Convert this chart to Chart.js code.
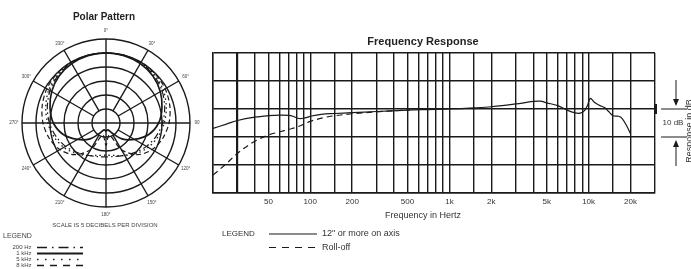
<!DOCTYPE html>
<html><head><meta charset="utf-8">
<script src="https://cdn.jsdelivr.net/npm/chart.js@4"></script>
<style>
html,body{margin:0;padding:0;background:#fff;}
#wrap{position:relative;width:691px;height:269px;overflow:hidden;background:#fff;}
canvas{position:absolute;left:0;top:0;}
</style></head><body>
<div id="wrap">
<canvas id="freq" width="691" height="269"></canvas>
<canvas id="polar" width="200" height="269"></canvas>
</div>
<script>
const F = '"Liberation Sans", Arial, Helvetica, sans-serif';

// ---- Polar pattern (dB, outer ring = 0, centre = -30, 5 dB per ring) ----
const polarAngles = ['0°','15°','30°','45°','60°','75°','90°','105°','120°','135°','150°','165°','180°','195°','210°','225°','240°','255°','270°','285°','300°','315°','330°','345°'];
const pattern200Hz = [-5,-5,-5.3,-5.9,-6.9,-8.3,-9.8,-11.5,-13.3,-15.2,-16.7,-17.6,-17.9,-17.6,-16.7,-15.2,-13.3,-11.5,-9.8,-8.3,-6.9,-5.9,-5.3,-5];
const pattern1kHz  = [-5,-5.1,-5.5,-6.3,-7.6,-9.3,-11.2,-14.2,-18.3,-22,-26,-27.5,-27,-27.5,-26,-22,-18.3,-14.2,-11.2,-9.3,-7.6,-6.3,-5.5,-5.1];
const pattern5kHz  = [-5,-5,-5.2,-5.6,-6.4,-7.7,-9.2,-10.8,-12.6,-14.6,-16.6,-18,-18.5,-18,-16.6,-14.6,-12.6,-10.8,-9.2,-7.7,-6.4,-5.6,-5.2,-5];
const pattern8kHz  = [-5,-5,-5,-5.2,-5.6,-6.4,-7.5,-9,-11,-14,-19,-25.5,-22,-25.5,-19,-14,-11,-9,-7.5,-6.4,-5.6,-5.2,-5,-5];
const polarLegend = ['200 Hz','1 kHz','5 kHz','8 kHz'];

// ---- Frequency response ----
const gridFreqs = [20,30,40,50,60,70,80,90,100,150,200,300,400,500,600,700,800,900,1000,1500,2000,3000,4000,5000,6000,7000,8000,9000,10000,15000,20000,30000];
const labelFreqs = [50,100,200,500,1000,2000,5000,10000,20000];
const labelTexts = ['50','100','200','500','1k','2k','5k','10k','20k'];
const dbTicks = [-30,-20,-10,0,10,20];
const onAxisFreqs = [20,25,30,40,50,60,70,75,80,87,95,100,120,150,200,300,500,700,1000,1500,2000,3000,4000,4500,5000,6000,7000,8000,8700,9300,9800,10300,11000,12000,13000,14000,15000,16500,17500,19000,20000];
const onAxisDb    = [-6.9,-5.4,-4.1,-2.9,-2.4,-2.2,-2.3,-2.6,-3.2,-3.4,-3.0,-2.6,-1.9,-1.6,-1.3,-0.9,-0.4,-0.2,0,0.4,0.8,1.8,2.7,2.8,2.2,1.2,-0.4,-1.4,-1.5,-0.7,1.2,3.8,2.4,1.3,0.5,-1.0,-2.4,-2.6,-3.5,-6.5,-8.8];
const rollOffFreqs = [20,25,30,40,50,60,70,80,100,130,150,200,300,400,520];
const rollOffDb    = [-23.6,-19.5,-15.8,-11.5,-9.3,-8.2,-7.3,-6.5,-4.4,-2.9,-2.4,-1.7,-1.0,-0.6,-0.3];
const freqLegend = ['12" or more on axis','Roll-off'];

const INK = '#1a1a1a';
const polarStyles = [
  {w:1.2, dash:[7,3,1.5,3]},
  {w:1.7, dash:[]},
  {w:1.3, dash:[1.5,3]},
  {w:1.2, dash:[5,3]}
];

function txt(ctx, s, x, y, font, align, color){
  ctx.font = font; ctx.textAlign = align || 'left'; ctx.textBaseline = 'middle';
  ctx.fillStyle = color || '#333'; ctx.fillText(s, x, y);
}
function seg(ctx, x1, y1, x2, y2, w, dash){
  ctx.beginPath(); ctx.setLineDash(dash || []); ctx.lineWidth = w; ctx.strokeStyle = INK;
  ctx.moveTo(x1, y1); ctx.lineTo(x2, y2); ctx.stroke(); ctx.setLineDash([]);
}

const annot = {
  id: 'annot',
  afterDraw(chart){
    const ctx = chart.ctx, ys = chart.scales.y, a = chart.chartArea;
    ctx.save();
    // Frequency response texts
    txt(ctx, 'Frequency Response', (a.left + a.right) / 2 - 11, 41.5, 'bold 11px ' + F, 'center', '#222');
    txt(ctx, 'Frequency in Hertz', (a.left + a.right) / 2 - 11, 215.5, '9px ' + F, 'center', '#333');
    // legend
    txt(ctx, 'LEGEND', 222, 233.5, '8px ' + F, 'left', '#333');
    seg(ctx, 269, 234, 317, 234, 1.2, []);
    seg(ctx, 269, 247.5, 317, 247.5, 1.1, [7, 6]);
    txt(ctx, freqLegend[0], 322, 234, '9px ' + F, 'left', '#333');
    txt(ctx, freqLegend[1], 322, 247.5, '9px ' + F, 'left', '#333');
    // right side 10 dB annotation
    const y0 = ys.getPixelForValue(0), y10 = ys.getPixelForValue(-10);
    ctx.fillStyle = INK; ctx.fillRect(a.right - 1, y0 - 5, 3, 10);
    seg(ctx, 661, y0, 687, y0, 1, []);
    seg(ctx, 661, y10, 687, y10, 1, []);
    const ax = 676;
    seg(ctx, ax, y0 - 29, ax, y0 - 8, 1, []);
    ctx.beginPath(); ctx.moveTo(ax - 3, y0 - 10); ctx.lineTo(ax + 3, y0 - 10); ctx.lineTo(ax, y0 - 3); ctx.closePath(); ctx.fill();
    seg(ctx, ax, y10 + 8, ax, y10 + 29, 1, []);
    ctx.beginPath(); ctx.moveTo(ax - 3, y10 + 10); ctx.lineTo(ax + 3, y10 + 10); ctx.lineTo(ax, y10 + 3); ctx.closePath(); ctx.fill();
    txt(ctx, '10 dB', 673, (y0 + y10) / 2, '8px ' + F, 'center', '#333');
    ctx.save(); ctx.translate(689.5, 131); ctx.rotate(-Math.PI / 2);
    txt(ctx, 'Response in dB', 0, 0, '9px ' + F, 'center', '#333');
    ctx.restore();
    // Polar texts
    txt(ctx, 'Polar Pattern', 104, 17, 'bold 10px ' + F, 'center', '#222');
    txt(ctx, 'SCALE IS 5 DECIBELS PER DIVISION', 105, 225, '6px ' + F, 'center', '#444');
    txt(ctx, 'LEGEND', 3, 236.5, '7px ' + F, 'left', '#444');
    const ly = [247.5, 253.5, 259.5, 265.5];
    polarLegend.forEach((s, i) => {
      txt(ctx, s, 31.5, ly[i], '6px ' + F, 'right', '#444');
      const st = polarStyles[i];
      seg(ctx, 37, ly[i], 83, ly[i], i === 1 ? 1.8 : 1.4, i === 2 ? [1.5, 6.5] : (i === 0 ? [10, 5, 1.5, 5] : st.dash.length ? [7, 6] : []));
    });
    ctx.restore();
  }
};

new Chart(document.getElementById('freq'), {
  type: 'line',
  data: { datasets: [
    { label: freqLegend[0], data: onAxisFreqs.map((f, i) => ({x: f, y: onAxisDb[i]})), borderColor: INK, borderWidth: 1.2, pointRadius: 0, tension: 0.35, fill: false },
    { label: freqLegend[1], data: rollOffFreqs.map((f, i) => ({x: f, y: rollOffDb[i]})), borderColor: INK, borderWidth: 1.2, borderDash: [6, 4], pointRadius: 0, tension: 0.35, fill: false }
  ]},
  options: {
    responsive: false, animation: false,
    layout: { padding: { left: 213, right: 36, top: 53, bottom: 56 } },
    plugins: { legend: { display: false }, tooltip: { enabled: false } },
    scales: {
      x: {
        type: 'logarithmic', min: 20, max: 30000,
        afterBuildTicks: s => { s.ticks = gridFreqs.map(v => ({value: v})); },
        afterFit: s => { s.height = 20; },
        ticks: { autoSkip: false, maxRotation: 0, minRotation: 0, padding: 4, font: { family: F, size: 8 }, color: '#333',
          callback: v => { const k = labelFreqs.indexOf(v); return k >= 0 ? labelTexts[k] : ''; } },
        grid: { color: INK, lineWidth: c => (c.tick && c.tick.value === 30) ? 2.2 : 1.4, drawTicks: false },
        border: { color: INK, width: 1.4 }
      },
      y: {
        min: -30, max: 20,
        afterBuildTicks: s => { s.ticks = dbTicks.map(v => ({value: v})); },
        afterFit: s => { s.width = 0; },
        ticks: { display: false },
        grid: { color: INK, lineWidth: 1.4, drawTicks: false },
        border: { color: INK, width: 1.4 }
      }
    }
  },
  plugins: [annot]
});

const spokes = {
  id: 'spokes',
  beforeDatasetsDraw(chart){
    const s = chart.scales.r, ctx = chart.ctx;
    ctx.save();
    for (let i = 0; i < polarAngles.length; i += 2) {
      const p0 = s.getPointPositionForValue(i, i % 6 === 0 ? s.min : -25);
      const p1 = s.getPointPositionForValue(i, s.max);
      seg(ctx, p0.x, p0.y, p1.x, p1.y, 1.4, []);
    }
    ctx.restore();
  },
  afterDraw(chart){
    const s = chart.scales.r, ctx = chart.ctx;
    ctx.save();
    for (let i = 0; i < polarAngles.length; i += 2) {
      const p = s.getPointPosition(i, s.drawingArea + 8);
      txt(ctx, polarAngles[i], p.x, p.y, '4.5px ' + F, 'center', '#444');
    }
    ctx.restore();
  }
};

new Chart(document.getElementById('polar'), {
  type: 'radar',
  data: { labels: polarAngles, datasets: [pattern200Hz, pattern1kHz, pattern5kHz, pattern8kHz].map((d, i) => ({
    label: polarLegend[i], data: d, borderColor: INK, borderWidth: polarStyles[i].w, borderDash: polarStyles[i].dash,
    pointRadius: 0, fill: false, backgroundColor: 'transparent'
  })) },
  options: {
    responsive: false, animation: false,
    layout: { padding: { left: 22, right: 10, top: 39, bottom: 62 } },
    plugins: { legend: { display: false }, tooltip: { enabled: false } },
    elements: { line: { tension: 0.3 } },
    scales: { r: {
      min: -30, max: 0,
      ticks: { display: false, stepSize: 5 },
      grid: { circular: true, color: INK, lineWidth: 1.4 },
      angleLines: { display: false },
      pointLabels: { display: false }
    } }
  },
  plugins: [spokes]
});
</script>
</body></html>
